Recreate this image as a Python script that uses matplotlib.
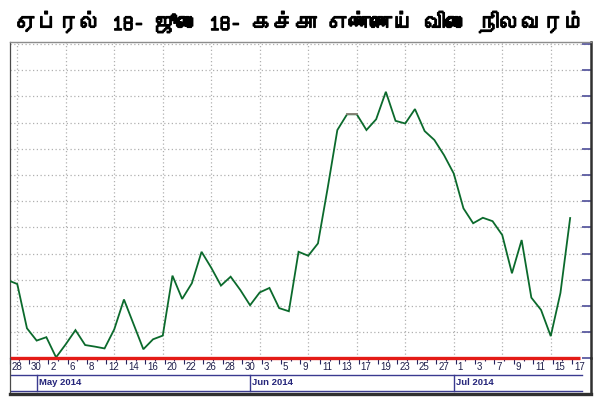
import matplotlib
matplotlib.use("Agg")
import matplotlib.pyplot as plt
import matplotlib.font_manager as fm
import matplotlib.patheffects as pe
from matplotlib.ft2font import FT2Font

# ---------------- data ----------------
title = "ஏப்ரல் 18- ஜூலை 18- கச்சா எண்ணெய் விலை நிலவரம்"

# trading days (day of month), 28 Apr 2014 .. 17 Jul 2014
days = [28, 29, 30,
        1, 2, 5, 6, 7, 8, 9, 12, 13, 14, 15, 16, 19, 20, 21, 22, 23, 26, 27, 28, 29, 30,
        2, 3, 4, 5, 6, 9, 10, 11, 12, 13, 16, 17, 18, 19, 20, 23, 24, 25, 26, 27, 30,
        1, 2, 3, 4, 7, 8, 9, 10, 11, 14, 15, 16, 17]

prices = [106.99, 106.84, 105.15, 104.68, 104.81, 104.04, 104.54, 105.08, 104.51, 104.45,
          104.38, 105.11, 106.25, 105.30, 104.35, 104.73, 104.87, 107.16, 106.27, 106.87,
          108.07, 107.46, 106.78, 107.12, 106.61, 106.03, 106.52, 106.69, 105.92, 105.80,
          108.07, 107.92, 108.39, 110.50, 112.72, 113.32, 113.32, 112.72, 113.13, 114.18,
          113.07, 112.97, 113.52, 112.68, 112.34, 111.76, 111.06, 109.73, 109.16, 109.37,
          109.24, 108.71, 107.25, 108.52, 106.32, 105.85, 104.85, 106.50, 109.36]

months = ["May 2014", "Jun 2014", "Jul 2014"]
month_start_idx = [3, 25, 46]

reference_level = 104.0

# ---------------- fonts ----------------
def find_font(cp):
    for f in fm.fontManager.ttflist:
        try:
            if cp in FT2Font(f.fname).get_charmap():
                return f.name
        except Exception:
            pass
    return None

tamil = find_font(0x0B95)
title_family = [tamil, "DejaVu Sans"] if tamil else ["DejaVu Sans"]
plt.rcParams["font.family"] = ["Liberation Sans", "DejaVu Sans"]

# ---------------- figure ----------------
W, H = 600, 397
fig = plt.figure(figsize=(W / 100, H / 100), dpi=100)
fig.patch.set_facecolor("white")

x_left_px, x_right_px = 9.5, 591
top_px, bot_px, panel_bot_px = 41.5, 358.4, 394

ax = fig.add_axes([x_left_px / W, 1 - bot_px / H,
                   (x_right_px - x_left_px) / W, (bot_px - top_px) / H])
ax2 = fig.add_axes([x_left_px / W, 1 - panel_bot_px / H,
                    (x_right_px - x_left_px) / W, (panel_bot_px - bot_px) / H])
ax2.patch.set_visible(False)

n = len(prices)
xs = list(range(n))
xlim = (0.2, 60.15)
ax.set_xlim(*xlim)
ax.set_ylim(reference_level, reference_level + 12.1)
ax2.set_xlim(*xlim)
ax2.set_ylim(0, 1)

# grid (dotted)
grid_kw = dict(color="#b0b0b0", lw=0.9, dashes=(1, 2), zorder=1)
for k in range(12):
    ax.axvline(1 + 5 * k, **grid_kw)
for k in range(1, 13):
    ax.axhline(reference_level + k, **grid_kw)

# price line
ax.plot(xs, prices, color="#0b6a2c", lw=1.3, zorder=3, solid_joinstyle="miter")
for i in range(n - 1):
    if prices[i] == prices[i + 1]:
        ax.plot([i, i + 1], [prices[i], prices[i + 1]], color="#8a8278", lw=1.3, zorder=4)

# red reference line at the bottom
ax.plot([xlim[0], n], [reference_level, reference_level], color="#e41b17", lw=2.4,
        zorder=5, clip_on=False, solid_capstyle="butt")

# spines
ax.spines["top"].set_color("#8c8c8c"); ax.spines["top"].set_linewidth(1.0)
ax.spines["left"].set_color("#4a4a4a"); ax.spines["left"].set_linewidth(0.9)
ax.spines["right"].set_color("#303030"); ax.spines["right"].set_linewidth(1.8)
ax.spines["bottom"].set_visible(False)

ax2.spines["top"].set_visible(False)
ax2.spines["left"].set_color("#4a4a4a"); ax2.spines["left"].set_linewidth(0.9)
ax2.spines["right"].set_color("#303030"); ax2.spines["right"].set_linewidth(1.8)
ax2.spines["bottom"].set_color("#303030"); ax2.spines["bottom"].set_linewidth(2.4)
ax2.set_xticks([]); ax2.set_yticks([])

# right y ticks (inside)
ax.set_yticks([reference_level + k for k in range(13)])
ax.tick_params(axis="y", which="both", left=False, right=True, labelleft=False,
               direction="in", length=6.5, width=1.3, color="#5a5aa0")

# bottom x ticks
navy = "#24245e"
ax.set_xticks([i + 0.2 for i in range(0, n, 2)])
ax.set_xticks([i + 0.2 for i in range(1, n, 2)], minor=True)
ax.tick_params(axis="x", which="major", direction="out", length=4.5, width=0.8,
               color=navy, labelbottom=False)
ax.tick_params(axis="x", which="minor", direction="out", length=2.2, width=0.8,
               color=navy, labelbottom=False)

# tick labels
for i in range(0, n, 2):
    ax2.text(i + 0.4, 0.77, str(days[i]), fontsize=7, color="#1e1e4a",
             ha="left", va="center")

# month row
ax2.plot([xlim[0], 59.2], [0.534, 0.534], color="#3a3a90", lw=1.0)
ax2.plot([xlim[0], 59.2], [0.075, 0.075], color="#3a3a90", lw=1.0)
for m, idx in zip(months, month_start_idx):
    ax2.plot([idx, idx], [0.075, 0.534], color="#3a3a90", lw=1.0)
    ax2.text(idx + 0.25, 0.31, m, fontsize=6.8, color="#25257a",
             ha="left", va="center", fontweight="bold")

# title
fig.text(0.5, 1 - 22 / H, title, ha="center", va="center", fontsize=15.5,
         fontweight="bold", family=title_family, color="black",
         path_effects=[pe.withStroke(linewidth=1.0, foreground="black")])

fig.savefig("out.png", dpi=100)
